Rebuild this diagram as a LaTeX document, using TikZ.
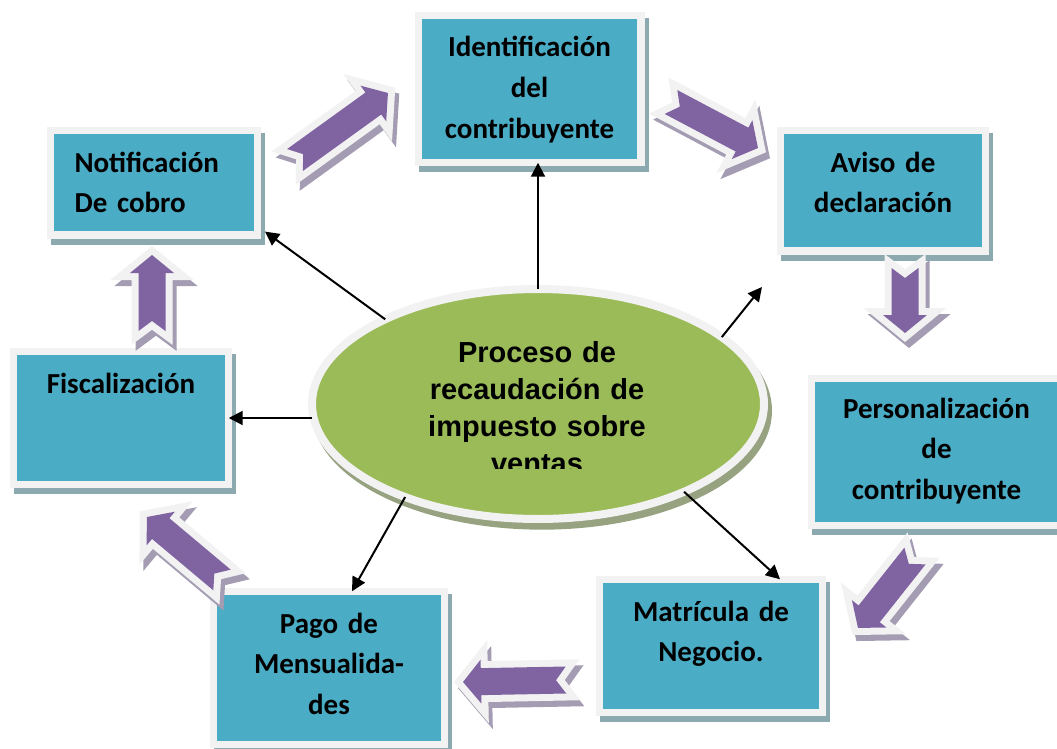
\documentclass[tikz,border=0pt]{standalone}
\usepackage{fontspec}
\setmainfont{Carlito}
\newfontfamily\arialfont{Liberation Sans}
\usetikzlibrary{shapes.geometric,arrows.meta}

\definecolor{tealfill}{RGB}{75,172,198}
\definecolor{tealshade}{RGB}{141,169,176}
\definecolor{greenfill}{RGB}{155,187,89}
\definecolor{greenshade}{RGB}{150,162,128}
\definecolor{purplefill}{RGB}{128,100,162}
\definecolor{purpleshade}{RGB}{163,156,178}
\definecolor{rim}{RGB}{242,242,242}

\tikzset{every picture/.style={line width=0.75pt}}
\tikzset{
  stagebox/.style={rectangle, fill=tealfill, draw=rim, line width=5.6pt, outer sep=0pt, inner sep=0pt,
    preaction={transform canvas={xshift=3pt,yshift=-4.5pt}, fill=tealshade, draw=tealshade, line width=5.6pt}},
  stagetext/.style={inner sep=0pt, text width=172.5pt, align=center, font=\bfseries\fontsize{21.75}{30.4}\selectfont},
  link/.style={line width=1.5pt, -{Triangle[length=10.5pt,width=10.5pt]}},
  pics/flowshade/.style={code={
    \path[fill=purpleshade, draw=purpleshade, line width=10.5pt, line join=miter]
      (0,-13.5) -- (#1-18,-13.5) -- (#1-18,-22) -- (#1,0) -- (#1-18,22) -- (#1-18,13.5) -- (0,13.5) -- (10,0) -- cycle;
  }},
  pics/flowarrow/.style={code={
    \path[fill=purplefill, preaction={fill=rim, draw=rim, line width=10.5pt, line join=miter}]
      (0,-13.5) -- (#1-18,-13.5) -- (#1-18,-22) -- (#1,0) -- (#1-18,22) -- (#1-18,13.5) -- (0,13.5) -- (10,0) -- cycle;
  }}
}

\begin{document}
\begin{tikzpicture}[x=0.75pt,y=0.75pt,yscale=-1,xscale=1]
\useasboundingbox (0,0) rectangle (1057,749);

%Shape: Rectangle
\node[stagebox, minimum width=166.9pt, minimum height=110.6pt] (ident) at (529.5,89) {};
\node[stagebox, minimum width=154.1pt, minimum height=90.4pt] (aviso) at (883,190.5) {};
\node[stagebox, minimum width=187.9pt, minimum height=110.6pt] (perso) at (936.5,452) {};
\node[stagebox, minimum width=167.6pt, minimum height=100.1pt] (matr) at (711,646) {};
\node[stagebox, minimum width=173.6pt, minimum height=115.1pt] (pago) at (329,668) {};
\node[stagebox, minimum width=161.6pt, minimum height=100.1pt] (fisc) at (121,418) {};
\node[stagebox, minimum width=155.6pt, minimum height=78.4pt] (notif) at (154,182.5) {};

% Text Node
\node[stagetext, anchor=base] (identtxt) at (529.5,57) {Identificación\\del\\contribuyente};
\node[stagetext, anchor=base] (avisotxt) at (883,172) {Aviso de\\declaración};
\node[stagetext, anchor=base] (persotxt) at (936.5,418) {Personalización\\de\\contribuyente};
\node[stagetext, anchor=base] (matrtxt) at (711,621) {Matrícula de\\Negocio.};
\node[stagetext, anchor=base] (pagotxt) at (329,633) {Pago de\\Mensualida-\\des};
\node[stagetext, anchor=base] (fisctxt) at (121,393) {Fiscalización};
\node[stagetext, align=left, anchor=base west] (notiftxt) at (74,172) {Notificación\\De cobro};

%Block Arrows
\pic[rotate=35.8] at (299,166) {flowshade=114.6};
\pic[rotate=35.8] at (295,160) {flowarrow=114.6};
\pic[rotate=-27.9] at (675,108) {flowshade=98.4};
\pic[rotate=-27.9] at (671,102) {flowarrow=98.4};
\pic[rotate=-90] at (909,274) {flowshade=65};
\pic[rotate=-90] at (905,268) {flowarrow=65};
\pic[rotate=-128.4] at (919,562) {flowshade=91.8};
\pic[rotate=-128.4] at (915,556) {flowarrow=91.8};
\pic[rotate=-178.9] at (570,686) {flowshade=103};
\pic[rotate=-178.9] at (566,680) {flowarrow=103};
\pic[rotate=140] at (226,586) {flowshade=98};
\pic[rotate=140] at (222,580) {flowarrow=98};
\pic[rotate=90] at (156,337) {flowshade=76};
\pic[rotate=90] at (152,331) {flowarrow=76};

%Shape: Ellipse
\node[ellipse, fill=greenfill, draw=rim, line width=6pt, outer sep=0pt, inner sep=0pt,
  minimum width=339pt, minimum height=172.5pt,
  preaction={transform canvas={xshift=3pt,yshift=-5pt}, fill=greenshade, draw=greenshade, line width=6pt}] (proc) at (538,404) {};
\begin{scope}
\clip (380,330) rectangle (700,468);
\node[inner sep=0pt, text width=210pt, align=center, font=\arialfont\bfseries\fontsize{21.75}{27.75}\selectfont, anchor=base] (proctxt) at (537,362) {Proceso de\\recaudación de\\impuesto sobre\\ventas};
\end{scope}

%Straight Lines
\coordinate (avisoend) at (762,287);
\draw[link] (proc.north) -- (proc.north |- ident.south);
\draw[link] (proc.20) -- (avisoend);
\draw[link] (proc.151) -- ([xshift=5.4pt,yshift=-2.4pt]notif.south east);
\draw[link] (fisc.east -| proc.west) -- (fisc.east);
\draw[link] (proc.215) -- ([xshift=17.25pt]pago.north);
\draw[link] (proc.-31) -- ([xshift=51.75pt]matr.north);

\end{tikzpicture}
\end{document}
